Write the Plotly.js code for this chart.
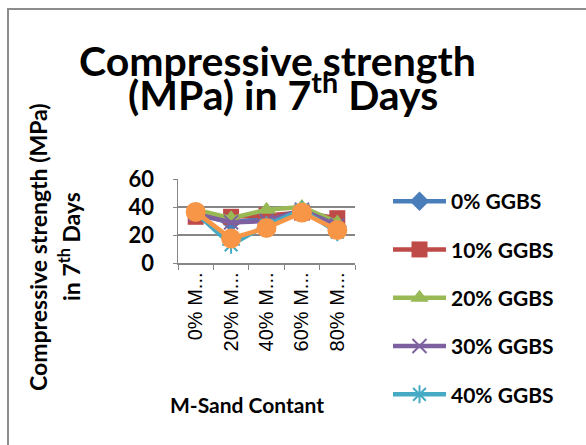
<!DOCTYPE html>
<html>
<head>
<meta charset="utf-8">
<script src="https://cdn.plot.ly/plotly-3.0.1.min.js"></script>
<style>
  html, body { margin: 0; padding: 0; background: #fff; overflow: hidden; }
  #chart { width: 586px; height: 445px; }
</style>
</head>
<body>
<div id="chart"></div>
<script>
// ---- data ----
const categories = ["0% M-Sand", "20% M-Sand", "40% M-Sand", "60% M-Sand", "80% M-Sand"];
const tickLabels = ["0% M...", "20% M...", "40% M...", "60% M...", "80% M..."];
const seriesNames = ["0% GGBS", "10% GGBS", "20% GGBS", "30% GGBS", "40% GGBS", "50% GGBS"];
const ggbs0  = [35, 29, 32, 36, 26];
const ggbs10 = [33, 33, 34, 36, 32];
const ggbs20 = [38, 32, 38, 40, 29];
const ggbs30 = [35, 29, 30, 38, 27];
const ggbs40 = [36, 13, 27, 38, 22];
const ggbs50 = [36.5, 17.5, 25, 36, 23.5];
const yTicks = [0, 20, 40, 60];

// ---- layout helpers (pixel -> paper) ----
const W = 586, H = 445;
const M = { l: 178, r: 231, t: 179, b: 182 };
const PW = W - M.l - M.r, PH = H - M.t - M.b;
const px = v => (v - M.l) / PW;
const py = v => (H - M.b - v) / PH;

const styles = [
  { color: "#4A7EBB", symbol: "diamond", size: 15 },
  { color: "#BE4B48", symbol: "square", size: 16 },
  { color: "#98B954", symbol: "triangle-up", size: 16 },
  { color: "#7D60A0", symbol: "x-thin-open", size: 14 },
  { color: "#46AAC5", symbol: "asterisk-open", size: 15 },
  { color: "#F79646", symbol: "circle", size: 20 }
];
const values = [ggbs0, ggbs10, ggbs20, ggbs30, ggbs40, ggbs50];

const traces = values.map((vals, i) => {
  const s = styles[i];
  const open = s.symbol.indexOf("open") >= 0;
  return {
    type: "scatter",
    mode: "lines+markers",
    name: seriesNames[i],
    x: categories,
    y: vals,
    legendgroup: "g" + i,
    showlegend: i < 5,
    line: { color: s.color, width: 4.5 },
    marker: {
      symbol: s.symbol,
      size: s.size,
      color: s.color,
      line: { color: s.color, width: open ? 2 : 0 }
    },
    cliponaxis: false
  };
});

const boldFont = "Lato, 'Open Sans', sans-serif";

const layout = {
  width: W, height: H,
  margin: M,
  paper_bgcolor: "#ffffff",
  plot_bgcolor: "#ffffff",
  showlegend: true,
  legend: {
    x: px(388), xanchor: "left",
    y: py(181), yanchor: "top",
    font: { family: boldFont, size: 21, color: "#000", weight: "bold" },
    tracegroupgap: 18,
    itemwidth: 53,
    maxheight: 320,
    bgcolor: "rgba(0,0,0,0)"
  },
  xaxis: {
    type: "category",
    tickmode: "array",
    tickvals: categories,
    ticktext: tickLabels,
    tickangle: -90,
    tickfont: { family: "'Liberation Sans', Arial, sans-serif", size: 20, color: "#000" },
    showline: true, linecolor: "#868686", linewidth: 1.5,
    ticks: "outside", ticklen: 5, tickcolor: "#868686", tickson: "boundaries",
    showgrid: false, zeroline: false,
    range: [-0.5, 4.5]
  },
  yaxis: {
    range: [0, 60],
    tickmode: "array",
    tickvals: yTicks,
    ticktext: yTicks.map(String),
    tickfont: { family: boldFont, size: 22, color: "#000", weight: "bold" },
    showline: true, linecolor: "#868686", linewidth: 1.5,
    ticks: "outside", ticklen: 4, tickcolor: "#868686",
    ticklabelstandoff: 14,
    showgrid: true, gridcolor: "#868686", gridwidth: 1.5,
    zeroline: false
  },
  annotations: [
    { text: "Compressive strength", xref: "paper", yref: "paper",
      x: px(277), y: py(60), xanchor: "center", yanchor: "middle", showarrow: false,
      font: { family: boldFont, size: 41, color: "#000", weight: "bold" } },
    { text: "(MPa) in 7<sup>th</sup> Days", xref: "paper", yref: "paper",
      x: px(283), y: py(92), xanchor: "center", yanchor: "middle", showarrow: false,
      font: { family: boldFont, size: 41, color: "#000", weight: "bold" } },
    { text: "Compressive strength (MPa)", xref: "paper", yref: "paper",
      x: px(38), y: py(247), xanchor: "center", yanchor: "middle", textangle: -90, showarrow: false,
      font: { family: boldFont, size: 23, color: "#000", weight: "bold" } },
    { text: "in 7<sup>th</sup> Days", xref: "paper", yref: "paper",
      x: px(69), y: py(247), xanchor: "center", yanchor: "middle", textangle: -90, showarrow: false,
      font: { family: boldFont, size: 23, color: "#000", weight: "bold" } },
    { text: "M-Sand Contant", xref: "paper", yref: "paper",
      x: px(247), y: py(404), xanchor: "center", yanchor: "middle", showarrow: false,
      font: { family: boldFont, size: 21, color: "#000", weight: "bold" } }
  ],
  shapes: [
    { type: "path", xref: "paper", yref: "paper", layer: "below",
      path: "M" + px(8) + "," + py(450) + " L" + px(8) + "," + py(9) + " L" + px(600) + "," + py(9),
      line: { color: "#8C8C8C", width: 2 } }
  ]
};

Plotly.newPlot("chart", traces, layout, { staticPlot: true, displayModeBar: false });
</script>
</body>
</html>
